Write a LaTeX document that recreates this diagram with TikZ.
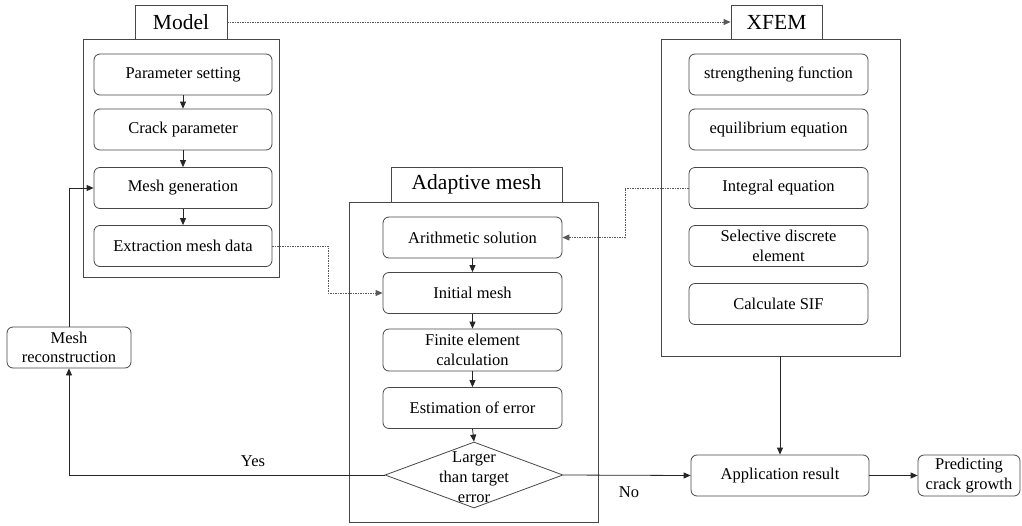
\documentclass[tikz,border=0pt]{standalone}
\usepackage{fontspec}
\setmainfont{Liberation Serif}
\usetikzlibrary{arrows.meta,shapes.geometric}
\begin{document}
\begin{tikzpicture}[x=1pt,y=-1pt,
  lc/.style={draw=black!72,line width=0.8pt},
  rbox/.style={lc,rounded corners=6pt,align=center,inner sep=1pt,font=\fontsize{16.5}{19.5}\selectfont,minimum width=178pt,minimum height=41pt},
  outer/.style={lc,inner sep=0pt},
  titlebox/.style={lc,inner sep=0pt,font=\fontsize{21.5}{24}\selectfont},
  arr/.style={draw=black!85,line width=0.8pt,-{Triangle[length=7pt,width=6pt]}},
  dotarr/.style={draw=black!65,line width=0.8pt,dash pattern=on 1.5pt off 1pt,-{Triangle[length=7pt,width=6pt]}},
  lbl/.style={font=\fontsize{16.5}{20}\selectfont,inner sep=0pt,align=center}]
\useasboundingbox (0,0) rectangle (1022,525);
% outer boxes and titles
\node[outer,minimum width=196pt,minimum height=238pt] (modelbox) at (181,158) {};
\node[titlebox,minimum width=92pt,minimum height=34pt] (modeltitle) at (181,22) {Model};
\node[outer,minimum width=239pt,minimum height=317pt] (xfembox) at (780.5,197.5) {};
\node[titlebox,minimum width=91pt,minimum height=34pt] (xfemtitle) at (776.5,22) {XFEM};
\node[outer,minimum width=249pt,minimum height=320pt] (adbox) at (473.5,362) {};
\node[titlebox,minimum width=171pt,minimum height=35pt] (adtitle) at (476.5,184.5) {Adaptive mesh};
% model
\node[rbox] (ps) at (183,74.5) {Parameter setting};
\node[rbox] (cp) at (183,129.5) {Crack parameter};
\node[rbox] (mg) at (183,188) {Mesh generation};
\node[rbox] (emd) at (183,246) {Extraction mesh data};
% xfem
\node[rbox,minimum width=179pt] (sf) at (778.5,74.5) {strengthening function};
\node[rbox,minimum width=179pt] (ee) at (778.5,129.5) {equilibrium equation};
\node[rbox,minimum width=179pt] (ie) at (778.5,188) {Integral equation};
\node[rbox,minimum width=179pt] (sde) at (778.5,246) {Selective discrete\\element};
\node[rbox,minimum width=179pt] (sif) at (778.5,304) {Calculate SIF};
% adaptive
\node[rbox,minimum width=179pt] (as) at (472.5,237.5) {Arithmetic solution};
\node[rbox,minimum width=179pt] (im) at (472.5,293) {Initial mesh};
\node[rbox,minimum width=179pt,minimum height=42pt] (fec) at (472.5,350) {Finite element\\calculation};
\node[rbox,minimum width=179pt] (eoe) at (472.5,408) {Estimation of error};
\node[lc,diamond,inner sep=0pt,minimum width=178pt,minimum height=66pt] (dec) at (474,475) {};
\node[lbl] (dectext) at (474,477) {Larger\\than target\\error};
% others
\node[rbox] (ar) at (780,475.5) {Application result};
\node[rbox,minimum width=102pt] (pc) at (969,475.5) {Predicting\\crack growth};
\node[rbox,minimum width=124pt] (mr) at (69,347.5) {Mesh\\reconstruction};
% connectors
\draw[arr] (ps) -- (cp);
\draw[arr] (cp) -- (mg);
\draw[arr] (mg) -- (emd);
\draw[arr] (as) -- (im);
\draw[arr] (im) -- (fec);
\draw[arr] (fec) -- (eoe);
\draw[arr] (eoe.south) -- (dec.north);
\draw[arr] (mr.north) |- (mg.west);
\draw[arr] (dec.west) -| (mr.south);
\draw[arr] (dec.east) -- (ar.west);
\draw[arr] (ar.east) -- (pc.west);
\draw[arr] (ar.north |- xfembox.south) -- (ar.north);
\node[lbl] (yes) at (253,461) {Yes};
\node[lbl] (no) at (629,492) {No};
\draw[dotarr] (modeltitle.east) -- (xfemtitle.west);
\coordinate (k1) at (328,0);
\coordinate (k2) at (625,0);
\draw[dotarr] (emd.east) -| (k1 |- im.west) -- (im.west);
\draw[dotarr] (ie.west) -| (k2 |- as.east) -- (as.east);
\end{tikzpicture}
\end{document}
